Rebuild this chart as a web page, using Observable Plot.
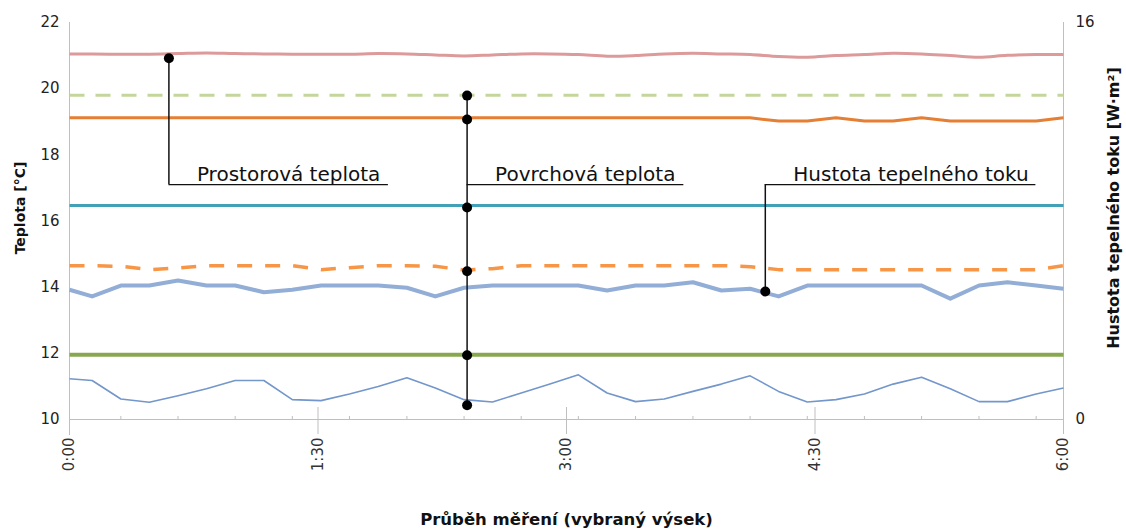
<!DOCTYPE html>
<html><head><meta charset="utf-8">
<script src="https://cdn.jsdelivr.net/npm/d3@7"></script>
<script src="https://cdn.jsdelivr.net/npm/@observablehq/plot@0.6"></script>
<style>html,body{margin:0;padding:0;background:#fff}</style>
</head><body><div id="chart"></div>
<script>
// time of each sample, minutes from 0:00
const times = [0, 8.2, 18.6, 28.9, 39.3, 49.6, 60.0, 70.4, 80.7, 91.1, 101.4, 111.8, 122.2, 132.5, 142.9, 153.2, 163.6, 174.0, 184.3, 194.7, 205.0, 215.4, 225.8, 236.1, 246.5, 256.8, 267.2, 277.6, 287.9, 298.3, 308.6, 319.0, 329.4, 339.7, 350.1, 360];

// Prostorová teplota (room temperature), °C
const roomTemp = [21.05, 21.05, 21.04, 21.04, 21.06, 21.08, 21.06, 21.05, 21.04, 21.04, 21.04, 21.06, 21.05, 21.02, 20.99, 21.02, 21.05, 21.05, 21.03, 20.98, 21.0, 21.05, 21.07, 21.05, 21.03, 20.97, 20.95, 21.0, 21.03, 21.07, 21.05, 21.0, 20.95, 21.01, 21.03, 21.03];
// Povrchové teploty (surface temperatures), °C
const surfGreenDash = [19.8, 19.8, 19.8, 19.8, 19.8, 19.8, 19.8, 19.8, 19.8, 19.8, 19.8, 19.8, 19.8, 19.8, 19.8, 19.8, 19.8, 19.8, 19.8, 19.8, 19.8, 19.8, 19.8, 19.8, 19.8, 19.8, 19.8, 19.8, 19.8, 19.8, 19.8, 19.8, 19.8, 19.8, 19.8, 19.8];
const surfOrange = [19.12, 19.12, 19.12, 19.12, 19.12, 19.12, 19.12, 19.12, 19.12, 19.12, 19.12, 19.12, 19.12, 19.12, 19.12, 19.12, 19.12, 19.12, 19.12, 19.12, 19.12, 19.12, 19.12, 19.12, 19.12, 19.02, 19.02, 19.12, 19.02, 19.02, 19.12, 19.02, 19.02, 19.02, 19.02, 19.12];
const surfTeal = [16.47, 16.47, 16.47, 16.47, 16.47, 16.47, 16.47, 16.47, 16.47, 16.47, 16.47, 16.47, 16.47, 16.47, 16.47, 16.47, 16.47, 16.47, 16.47, 16.47, 16.47, 16.47, 16.47, 16.47, 16.47, 16.47, 16.47, 16.47, 16.47, 16.47, 16.47, 16.47, 16.47, 16.47, 16.47, 16.47];
const surfOrangeDash = [14.65, 14.65, 14.63, 14.53, 14.58, 14.65, 14.65, 14.65, 14.65, 14.53, 14.59, 14.65, 14.65, 14.63, 14.52, 14.56, 14.65, 14.65, 14.65, 14.65, 14.65, 14.65, 14.65, 14.65, 14.62, 14.53, 14.53, 14.53, 14.53, 14.53, 14.53, 14.53, 14.53, 14.53, 14.53, 14.65];
const surfGreen = [11.96, 11.96, 11.96, 11.96, 11.96, 11.96, 11.96, 11.96, 11.96, 11.96, 11.96, 11.96, 11.96, 11.96, 11.96, 11.96, 11.96, 11.96, 11.96, 11.96, 11.96, 11.96, 11.96, 11.96, 11.96, 11.96, 11.96, 11.96, 11.96, 11.96, 11.96, 11.96, 11.96, 11.96, 11.96, 11.96];
const surfBlueThin = [11.23, 11.18, 10.62, 10.52, 10.72, 10.93, 11.18, 11.18, 10.6, 10.57, 10.77, 11.0, 11.26, 10.95, 10.6, 10.53, 10.8, 11.07, 11.35, 10.8, 10.54, 10.62, 10.85, 11.07, 11.32, 10.85, 10.53, 10.6, 10.77, 11.07, 11.28, 10.93, 10.54, 10.54, 10.77, 10.95];
// Hustota tepelného toku (heat flux density), W·m⁻² — right axis
const heatFlux = [5.23, 4.96, 5.4, 5.4, 5.6, 5.4, 5.4, 5.13, 5.23, 5.4, 5.4, 5.4, 5.31, 4.96, 5.31, 5.4, 5.4, 5.4, 5.4, 5.2, 5.4, 5.4, 5.53, 5.2, 5.27, 4.96, 5.4, 5.4, 5.4, 5.4, 5.4, 4.87, 5.4, 5.53, 5.4, 5.27];

// axes
const leftTicks = [10, 12, 14, 16, 18, 20, 22];
const rightTicks = [0, 16];
const majorTicks = [0, 90, 180, 270, 360];
const majorTickLabels = ["0:00", "1:30", "3:00", "4:30", "6:00"];
const minorTicks = [18.6, 39.3, 60.0, 80.7, 101.4, 122.2, 142.9, 163.6, 184.3, 205.0, 225.8, 246.5, 267.2, 287.9, 308.6, 329.4, 350.1];

// annotations
const annotLabels = ["Prostorová teplota", "Povrchová teplota", "Hustota tepelného toku"];
const annotTimes = [36, 144, 252];
const annotEnds = [115.5, 222.5, 350];
const annotLevel = 17.1;
const annotDotTimes = [36, 144, 144, 144, 144, 144, 144, 252];
const annotDotValues = [20.92, 19.79, 19.07, 16.41, 14.48, 11.94, 10.43, 13.87];

// right axis 0–16 W·m⁻² shares the plot height with left axis 10–22 °C
const fluxToTemp = f => 10 + f * 12 / 16;

const series = [
  {values: roomTemp, stroke: "#dc9a9b", width: 3, curve: "catmull-rom"},
  {values: surfGreenDash, stroke: "#c3d69b", width: 3, dash: "15,11"},
  {values: surfOrange, stroke: "#e47f33", width: 3},
  {values: surfTeal, stroke: "#42a0b7", width: 3},
  {values: surfOrangeDash, stroke: "#f79646", width: 3.5, dash: "15,13"},
  {values: heatFlux.map(fluxToTemp), stroke: "#92aed6", width: 4},
  {values: surfGreen, stroke: "#88a84f", width: 4},
  {values: surfBlueThin, stroke: "#7396cb", width: 1.6}
];

const grey = "#bfbfbf";
const marks = [];
// axis lines and ticks
marks.push(Plot.ruleY([10], {stroke: grey}));
marks.push(Plot.ruleX([0], {y1: 22, y2: 10, insetBottom: -16, stroke: grey}));
marks.push(Plot.ruleX([360], {y1: 22, y2: 10, insetBottom: -13, stroke: grey}));
marks.push(Plot.ruleX(majorTicks, {x: d => d, y1: 10, y2: 10, insetTop: -12, insetBottom: -15, stroke: grey}));
marks.push(Plot.ruleX(minorTicks, {x: d => d, y1: 10, y2: 10, insetTop: -3, stroke: grey}));

for (const s of series) {
  marks.push(Plot.line(times.map((t, i) => ({t, v: s.values[i]})), {
    x: "t", y: "v", stroke: s.stroke, strokeWidth: s.width,
    strokeDasharray: s.dash, curve: s.curve || "linear", strokeLinecap: "butt", strokeLinejoin: "round"
  }));
}

// annotation leaders
const vert = annotTimes.map((t, i) => {
  const vals = annotDotValues.filter((v, j) => annotDotTimes[j] === t).concat([annotLevel]);
  return {t, y1: d3.min(vals), y2: d3.max(vals)};
});
marks.push(Plot.ruleX(vert, {x: "t", y1: "y1", y2: "y2", stroke: "#111", strokeWidth: 1.5}));
marks.push(Plot.ruleY(annotTimes.map((t, i) => ({x1: t, x2: annotEnds[i], y: annotLevel})), {x1: "x1", x2: "x2", y: "y", stroke: "#111", strokeWidth: 1.3}));
marks.push(Plot.dot(annotDotTimes.map((t, i) => ({t, v: annotDotValues[i]})), {x: "t", y: "v", r: 5, fill: "#000", stroke: "none"}));
marks.push(Plot.text(annotLabels.map((l, i) => ({l, t: annotTimes[i]})), {
  x: "t", y: () => annotLevel, text: "l", textAnchor: "start", lineAnchor: "bottom",
  dx: 28, dy: -4, fontSize: 20, fill: "#111"
}));

// axes
marks.push(Plot.axisY({ticks: leftTicks, tickSize: 0, tickPadding: 10, fontSize: 15, label: null, color: "#222"}));
marks.push(Plot.axisY({anchor: "right", ticks: rightTicks.map(fluxToTemp), tickFormat: (d, i) => String(rightTicks[i]), tickSize: 0, tickPadding: 12, fontSize: 15, label: null, color: "#222"}));
marks.push(Plot.axisX({ticks: majorTicks, tickFormat: (d, i) => majorTickLabels[i], tickRotate: -90, tickSize: 0, tickPadding: 18, fontSize: 15, label: null, color: "#333"}));

// axis titles
marks.push(Plot.text(["Teplota [°C]"], {frameAnchor: "left", textAnchor: "middle", rotate: -90, dx: -49, dy: -13, fontSize: 14, fontWeight: "bold", fill: "#111"}));
marks.push(Plot.text(["Hustota tepelného toku [W·m²]"], {frameAnchor: "right", textAnchor: "middle", rotate: -90, dx: 50, dy: -13, fontSize: 16, fontWeight: "bold", fill: "#111"}));
marks.push(Plot.text(["Průběh měření (vybraný výsek)"], {frameAnchor: "bottom", dy: 105, fontSize: 16.5, fontWeight: "bold", fill: "#111"}));

const chart = Plot.plot({
  width: 1126, height: 531,
  marginLeft: 69, marginRight: 63, marginTop: 22, marginBottom: 112,
  x: {domain: [0, 360]},
  y: {domain: [10, 22]},
  style: {fontFamily: "DejaVu Sans", background: "#fff", overflow: "visible"},
  marks
});
document.getElementById("chart").appendChild(chart);
</script>
</body></html>
